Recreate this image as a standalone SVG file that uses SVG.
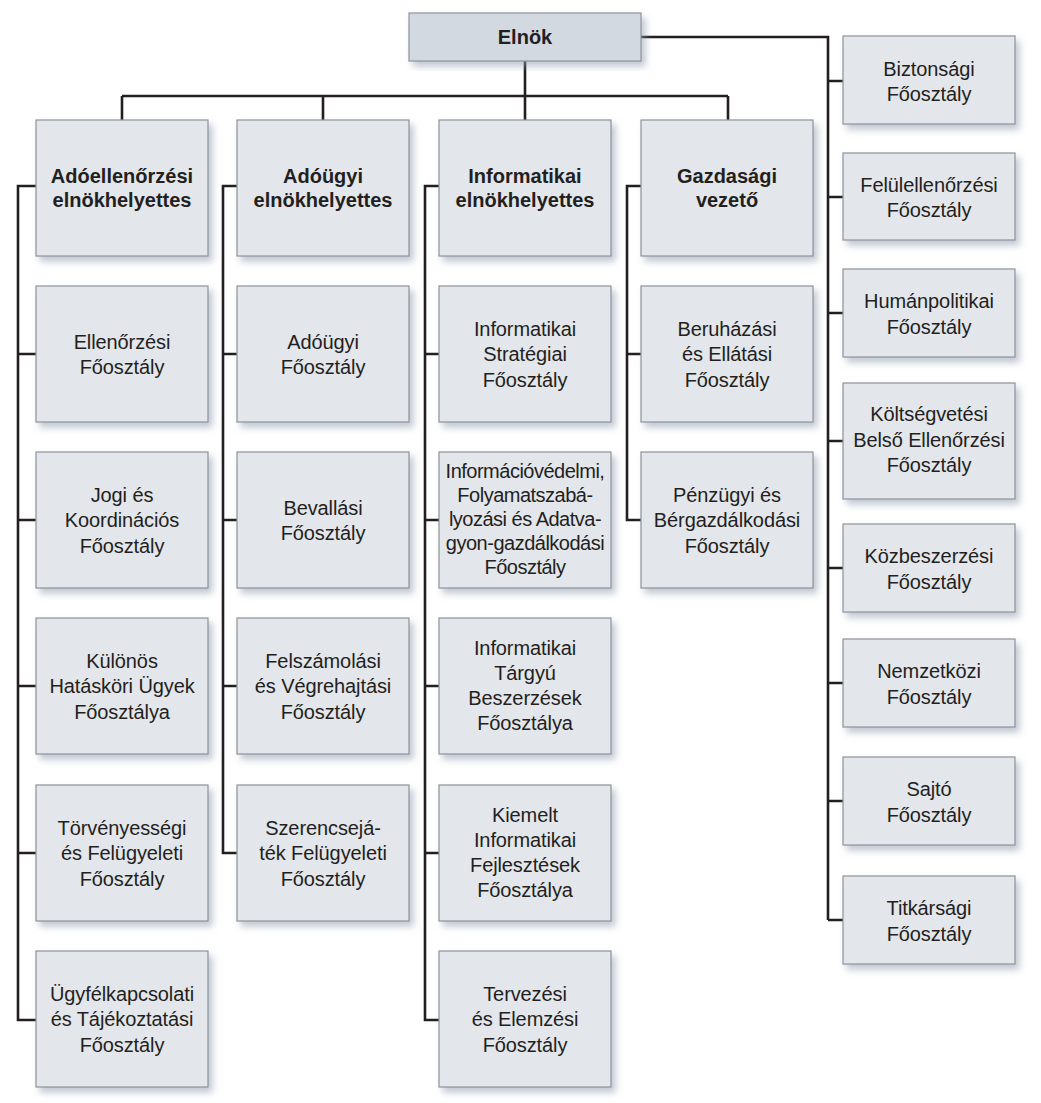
<svg xmlns="http://www.w3.org/2000/svg" width="1041" height="1103" viewBox="0 0 1041 1103">
<style>
.box{fill:#e3e6eb;stroke:#8d939b;stroke-width:1.2}
.top{fill:#d3d9e1;stroke:#8d939b;stroke-width:1.2}
.t{font-family:"Liberation Sans",Arial,sans-serif;font-size:20px;letter-spacing:-0.1px;fill:#231f20;text-anchor:middle}
.b{font-family:"Liberation Sans",Arial,sans-serif;font-size:20px;font-weight:bold;fill:#231f20;text-anchor:middle}
.tight{letter-spacing:-0.5px}
.ln{fill:none;stroke:#231f20;stroke-width:2.6}
</style>
<defs>
<filter id="sh" x="-10%" y="-10%" width="130%" height="130%">
<feDropShadow dx="4" dy="5" stdDeviation="3.5" flood-color="#8e9aab" flood-opacity="0.55"/>
</filter>
</defs>
<rect width="1041" height="1103" fill="#ffffff"/>
<g id="connectors" class="ln">
<path d="M525 61V120M122 96H728M122 96V120M323 96V120M728 96V120"/>
<path d="M641 37H828V920M828 81H843M828 197H843M828 313H843M828 441H843M828 568H843M828 683H843M828 801H843M828 920H843"/>
<path d="M36 186H18V1020H36M18 354H36M18 520H36M18 686H36M18 853H36"/>
<path d="M237 186H223V853H237M223 354H237M223 520H237M223 686H237"/>
<path d="M439 186H425V1020H439M425 354H439M425 520H439M425 686H439M425 853H439"/>
<path d="M641 186H627V520H641M627 354H641"/>
</g>
<g id="elnok"><rect class="top" x="409" y="13" width="232" height="48" filter="url(#sh)"/><text class="b" x="525" y="44">Elnök</text></g>

<g id="adoellenorzesi"><rect class="box" x="36" y="120" width="172" height="136" filter="url(#sh)"/><text class="b"><tspan x="122" y="182.5">Adóellenőrzési</tspan><tspan x="122" y="207">elnökhelyettes</tspan></text></g>
<g id="ellenorzesi"><rect class="box" x="36" y="286" width="172" height="136" filter="url(#sh)"/><text class="t"><tspan x="122" y="348.5">Ellenőrzési</tspan><tspan x="122" y="374">Főosztály</tspan></text></g>
<g id="jogi"><rect class="box" x="36" y="452" width="172" height="136" filter="url(#sh)"/><text class="t"><tspan x="122" y="501.5">Jogi és</tspan><tspan x="122" y="527">Koordinációs</tspan><tspan x="122" y="552.5">Főosztály</tspan></text></g>
<g id="kulonos"><rect class="box" x="36" y="618" width="172" height="136" filter="url(#sh)"/><text class="t"><tspan x="122" y="667.5">Különös</tspan><tspan x="122" y="693">Hatásköri Ügyek</tspan><tspan x="122" y="718.5">Főosztálya</tspan></text></g>
<g id="torvenyessegi"><rect class="box" x="36" y="785" width="172" height="136" filter="url(#sh)"/><text class="t"><tspan x="122" y="834.5">Törvényességi</tspan><tspan x="122" y="860">és Felügyeleti</tspan><tspan x="122" y="885.5">Főosztály</tspan></text></g>
<g id="ugyfelkapcsolati"><rect class="box" x="36" y="951" width="172" height="136" filter="url(#sh)"/><text class="t"><tspan x="122" y="1000.5">Ügyfélkapcsolati</tspan><tspan x="122" y="1026">és Tájékoztatási</tspan><tspan x="122" y="1051.5">Főosztály</tspan></text></g>

<g id="adougyi-eh"><rect class="box" x="237" y="120" width="172" height="136" filter="url(#sh)"/><text class="b"><tspan x="323" y="182.5">Adóügyi</tspan><tspan x="323" y="207">elnökhelyettes</tspan></text></g>
<g id="adougyi"><rect class="box" x="237" y="286" width="172" height="136" filter="url(#sh)"/><text class="t"><tspan x="323" y="348.5">Adóügyi</tspan><tspan x="323" y="374">Főosztály</tspan></text></g>
<g id="bevallasi"><rect class="box" x="237" y="452" width="172" height="136" filter="url(#sh)"/><text class="t"><tspan x="323" y="514.5">Bevallási</tspan><tspan x="323" y="540">Főosztály</tspan></text></g>
<g id="felszamolasi"><rect class="box" x="237" y="618" width="172" height="136" filter="url(#sh)"/><text class="t"><tspan x="323" y="667.5">Felszámolási</tspan><tspan x="323" y="693">és Végrehajtási</tspan><tspan x="323" y="718.5">Főosztály</tspan></text></g>
<g id="szerencsejatek"><rect class="box" x="237" y="785" width="172" height="136" filter="url(#sh)"/><text class="t"><tspan x="323" y="834.5">Szerencsejá-</tspan><tspan x="323" y="860">ték Felügyeleti</tspan><tspan x="323" y="885.5">Főosztály</tspan></text></g>

<g id="informatikai-eh"><rect class="box" x="439" y="120" width="172" height="136" filter="url(#sh)"/><text class="b"><tspan x="525" y="182.5">Informatikai</tspan><tspan x="525" y="207">elnökhelyettes</tspan></text></g>
<g id="inf-strategiai"><rect class="box" x="439" y="286" width="172" height="136" filter="url(#sh)"/><text class="t"><tspan x="525" y="335.5">Informatikai</tspan><tspan x="525" y="361">Stratégiai</tspan><tspan x="525" y="386.5">Főosztály</tspan></text></g>
<g id="informaciovedelmi"><rect class="box" x="439" y="452" width="172" height="136" filter="url(#sh)"/><text class="t tight"><tspan x="525" y="478">Információvédelmi,</tspan><tspan x="525" y="502">Folyamatszabá-</tspan><tspan x="525" y="526">lyozási és Adatva-</tspan><tspan x="525" y="550">gyon-gazdálkodási</tspan><tspan x="525" y="574">Főosztály</tspan></text></g>
<g id="inf-targyu"><rect class="box" x="439" y="618" width="172" height="136" filter="url(#sh)"/><text class="t"><tspan x="525" y="655">Informatikai</tspan><tspan x="525" y="680">Tárgyú</tspan><tspan x="525" y="705">Beszerzések</tspan><tspan x="525" y="730">Főosztálya</tspan></text></g>
<g id="kiemelt"><rect class="box" x="439" y="785" width="172" height="136" filter="url(#sh)"/><text class="t"><tspan x="525" y="822">Kiemelt</tspan><tspan x="525" y="847">Informatikai</tspan><tspan x="525" y="872">Fejlesztések</tspan><tspan x="525" y="897">Főosztálya</tspan></text></g>
<g id="tervezesi"><rect class="box" x="439" y="951" width="172" height="136" filter="url(#sh)"/><text class="t"><tspan x="525" y="1000.5">Tervezési</tspan><tspan x="525" y="1026">és Elemzési</tspan><tspan x="525" y="1051.5">Főosztály</tspan></text></g>

<g id="gazdasagi"><rect class="box" x="641" y="120" width="172" height="136" filter="url(#sh)"/><text class="b"><tspan x="727" y="182.5">Gazdasági</tspan><tspan x="727" y="207">vezető</tspan></text></g>
<g id="beruhazasi"><rect class="box" x="641" y="286" width="172" height="136" filter="url(#sh)"/><text class="t"><tspan x="727" y="335.5">Beruházási</tspan><tspan x="727" y="361">és Ellátási</tspan><tspan x="727" y="386.5">Főosztály</tspan></text></g>
<g id="penzugyi"><rect class="box" x="641" y="452" width="172" height="136" filter="url(#sh)"/><text class="t"><tspan x="727" y="501.5">Pénzügyi és</tspan><tspan x="727" y="527">Bérgazdálkodási</tspan><tspan x="727" y="552.5">Főosztály</tspan></text></g>

<g id="biztonsagi"><rect class="box" x="843" y="36" width="172" height="88" filter="url(#sh)"/><text class="t"><tspan x="929" y="75.5">Biztonsági</tspan><tspan x="929" y="101">Főosztály</tspan></text></g>
<g id="felulellenorzesi"><rect class="box" x="843" y="153" width="172" height="87" filter="url(#sh)"/><text class="t"><tspan x="929" y="191.5">Felülellenőrzési</tspan><tspan x="929" y="217">Főosztály</tspan></text></g>
<g id="humanpolitikai"><rect class="box" x="843" y="269" width="172" height="88" filter="url(#sh)"/><text class="t"><tspan x="929" y="308">Humánpolitikai</tspan><tspan x="929" y="333.5">Főosztály</tspan></text></g>
<g id="koltsegvetesi"><rect class="box" x="843" y="383" width="172" height="116" filter="url(#sh)"/><text class="t"><tspan x="929" y="421">Költségvetési</tspan><tspan x="929" y="446.5">Belső Ellenőrzési</tspan><tspan x="929" y="472">Főosztály</tspan></text></g>
<g id="kozbeszerzesi"><rect class="box" x="843" y="524" width="172" height="88" filter="url(#sh)"/><text class="t"><tspan x="929" y="563">Közbeszerzési</tspan><tspan x="929" y="588.5">Főosztály</tspan></text></g>
<g id="nemzetkozi"><rect class="box" x="843" y="639" width="172" height="88" filter="url(#sh)"/><text class="t"><tspan x="929" y="678">Nemzetközi</tspan><tspan x="929" y="703.5">Főosztály</tspan></text></g>
<g id="sajto"><rect class="box" x="843" y="757" width="172" height="88" filter="url(#sh)"/><text class="t"><tspan x="929" y="796">Sajtó</tspan><tspan x="929" y="821.5">Főosztály</tspan></text></g>
<g id="titkarsagi"><rect class="box" x="843" y="876" width="172" height="88" filter="url(#sh)"/><text class="t"><tspan x="929" y="915">Titkársági</tspan><tspan x="929" y="940.5">Főosztály</tspan></text></g>
</svg>
